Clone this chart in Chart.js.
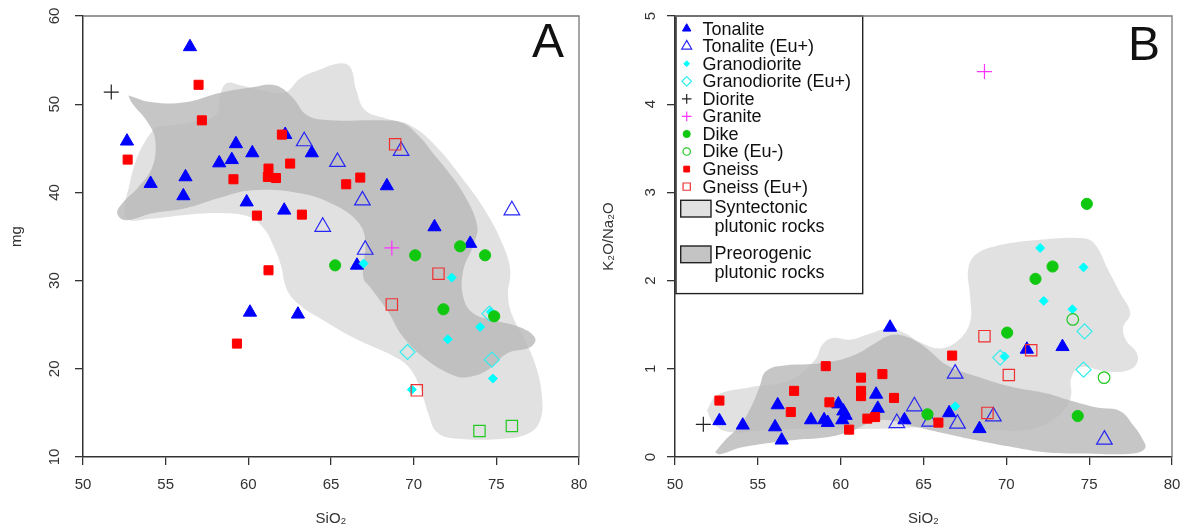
<!DOCTYPE html>
<html>
<head>
<meta charset="utf-8">
<script src="https://cdn.jsdelivr.net/npm/chart.js@4.4.1/dist/chart.umd.min.js"></script>
<style>
  body { margin: 0; background: #fff; }
  .panel { position: absolute; top: 0; width: 593px; height: 531px; }
  #panelA { left: 0; }
  #panelB { left: 593px; }
</style>
</head>
<body>
<div class="panel" id="panelA"><canvas id="chartA" width="593" height="531"></canvas></div>
<div class="panel" id="panelB"><canvas id="chartB" width="593" height="531"></canvas></div>
<script>
const FONT = "'Liberation Sans', Arial, Helvetica, sans-serif";

// ---- tick values ----
const siTicks = [50, 55, 60, 65, 70, 75, 80];
const mgTicks = [10, 20, 30, 40, 50, 60];
const kNaTicks = [0, 1, 2, 3, 4, 5];

// ---- panel A: SiO2 vs mg ----
const tonaliteA = [[56.47,56.5],[52.66,45.8],[59.25,45.5],[60.24,44.47],[58.24,43.33],[59.0,43.7],[54.09,41.0],[56.2,41.75],[56.07,39.6],[59.9,38.9],[62.17,37.97],[63.84,44.47],[62.23,46.55],[60.1,26.4],[63.0,26.18],[68.38,40.73],[71.26,36.08],[73.42,34.2],[66.57,31.73]];
const tonaliteEuA = [[63.38,45.8],[65.39,43.45],[69.24,44.7],[66.9,39.1],[75.94,37.97],[64.5,36.1],[67.07,33.5]];
const granodioriteA = [[66.97,31.93],[72.3,30.34],[74.67,26.44],[74.02,24.74],[72.06,23.34],[74.79,18.89],[69.89,17.64]];
const granodioriteEuA = [[69.63,21.91],[74.73,21.04],[74.58,26.26]];
const dioriteA = [[51.71,51.38]];
const graniteA = [[68.68,33.7]];
const dikeA = [[65.25,31.73],[70.09,32.87],[72.81,33.89],[74.32,32.87],[71.8,26.75],[74.87,25.95]];
const dikeEuA = [[73.98,12.95],[75.94,13.51]];
const gneissA = [[56.99,52.2],[57.19,48.17],[52.7,43.72],[62.03,46.55],[62.53,43.27],[59.1,41.49],[61.22,42.7],[61.18,41.75],[61.67,41.63],[60.52,37.37],[63.24,37.48],[61.22,31.17],[59.31,22.86],[65.92,40.92],[66.77,41.68]];
const gneissEuA = [[68.88,45.45],[71.5,30.79],[68.68,27.3],[70.19,17.56]];

const syntectonicA = [[54.37,47.38],[56.5,47.95],[58.01,48.74],[58.3,51.0],[58.68,52.37],[59.52,52.14],[60.85,51.58],[62.24,51.35],[63.14,52.94],[64.23,53.84],[65.56,54.64],[66.17,54.18],[66.53,51.58],[67.07,49.31],[68.28,48.4],[69.79,47.6],[71.3,45.33],[72.81,41.93],[74.32,37.96],[75.41,33.99],[75.84,31.16],[75.71,28.32],[75.96,26.06],[76.75,23.2],[77.47,19.81],[77.78,16.4],[77.65,14.14],[77.05,12.78],[75.66,12.1],[72.51,12.1],[71.42,12.78],[70.88,14.94],[70.39,17.89],[69.67,20.27],[68.7,21.52],[66.46,23.44],[64.35,25.71],[63.14,27.19],[62.36,28.89],[61.94,31.95],[61.5,34.0],[61.02,35.7],[60.12,37.17],[58.61,37.63],[56.5,37.5],[54.07,37.0],[52.7,36.9],[52.5,38.0],[52.8,40.8],[53.2,43.6],[53.8,45.9],[54.37,47.38]];
const preorogenicA = [[52.74,51.0],[54.19,50.22],[56.19,50.22],[58.18,51.24],[60.24,51.92],[61.63,52.14],[62.66,50.78],[63.56,48.74],[64.95,48.17],[67.97,48.17],[69.37,47.83],[70.39,46.24],[71.18,44.42],[72.03,42.49],[73.0,39.89],[73.84,36.26],[73.6,33.99],[73.0,31.16],[73.0,28.1],[73.6,26.29],[74.81,25.5],[76.44,24.7],[77.35,23.46],[77.05,22.44],[75.66,21.76],[74.45,19.83],[73.24,19.04],[72.39,19.27],[70.82,20.97],[69.37,23.57],[68.4,26.63],[67.37,29.24],[66.95,30.38],[67.07,34.57],[66.64,36.61],[65.25,38.54],[63.14,39.9],[60.24,40.24],[58.18,39.33],[56.19,38.2],[54.19,37.63],[52.56,36.84],[52.07,37.63],[52.38,38.77],[53.34,40.58],[54.19,42.85],[54.37,45.91],[53.95,47.84],[52.98,50.1],[52.74,51.0]];

// ---- panel B: SiO2 vs K2O/Na2O ----
const tonaliteB = [[52.68,0.41],[54.09,0.36],[56.2,0.59],[56.04,0.34],[56.44,0.19],[58.21,0.42],[59.0,0.42],[59.22,0.39],[59.86,0.6],[60.16,0.52],[60.3,0.47],[60.1,0.42],[62.14,0.71],[62.24,0.55],[62.98,1.47],[63.85,0.42],[66.55,0.5],[68.38,0.32],[71.24,1.22],[73.39,1.25]];
const tonaliteEuB = [[64.45,0.575],[63.39,0.385],[65.37,0.4],[66.91,0.945],[67.05,0.378],[69.22,0.46],[75.92,0.197]];
const granodioriteB = [[72.04,2.37],[74.66,2.15],[72.26,1.77],[73.99,1.675],[69.89,1.14],[66.91,0.575]];
const granodioriteEuB = [[69.63,1.127],[74.72,1.425],[74.66,0.99]];
const dioriteB = [[51.71,0.37]];
const graniteB = [[68.68,4.37]];
const dikeB = [[74.86,2.87],[72.79,2.16],[71.76,2.02],[70.05,1.41],[74.31,0.465],[65.24,0.484]];
const dikeEuB = [[74.01,1.56],[75.9,0.9]];
const gneissB = [[52.68,0.64],[57.19,0.75],[56.99,0.51],[59.1,1.03],[59.32,0.62],[60.51,0.31],[61.23,0.9],[61.23,0.75],[61.23,0.69],[62.52,0.94],[63.22,0.67],[61.61,0.435],[62.08,0.453],[66.73,1.15],[65.9,0.39]];
const gneissEuB = [[68.68,1.37],[71.5,1.21],[70.15,0.93],[68.86,0.5]];

const syntectonicB = [[51.93,0.53],[52.54,0.70],[54.53,0.79],[56.94,0.87],[58.45,1.10],[58.88,1.27],[59.48,1.35],[60.57,1.33],[61.78,1.40],[62.98,1.46],[63.89,1.40],[64.79,1.30],[66.0,1.23],[67.09,1.32],[67.81,1.53],[67.81,1.83],[67.69,2.12],[68.12,2.29],[69.32,2.39],[71.86,2.46],[74.64,2.48],[75.36,2.41],[76.15,2.12],[76.87,1.86],[77.48,1.63],[77.05,1.47],[77.23,1.32],[77.84,1.19],[77.9,1.07],[77.29,0.98],[76.09,0.97],[74.46,1.02],[73.91,0.89],[73.91,0.70],[73.55,0.55],[72.46,0.38],[70.83,0.30],[68.42,0.32],[66.0,0.34],[62.38,0.32],[57.55,0.32],[55.13,0.30],[53.32,0.28],[52.36,0.37],[51.93,0.53]];
const preorogenicB = [[52.42,0.053],[53.02,0.19],[53.93,0.36],[54.65,0.59],[55.13,0.81],[55.43,0.96],[56.22,1.03],[59.06,1.07],[60.75,1.15],[62.08,1.29],[62.98,1.38],[63.89,1.37],[64.67,1.3],[65.4,1.2],[66.43,1.04],[68.42,0.90],[70.41,0.79],[72.46,0.72],[73.85,0.64],[75.48,0.56],[76.87,0.52],[77.66,0.36],[78.26,0.19],[78.38,0.10],[77.66,0.04],[74.46,0.04],[72.46,0.05],[70.41,0.11],[68.42,0.18],[66.43,0.26],[64.37,0.35],[62.38,0.42],[60.45,0.28],[59.06,0.22],[57.07,0.19],[54.05,0.11],[52.72,0.03],[52.42,0.053]];

// ---- legend ----
const rockTypes = ['Tonalite', 'Tonalite (Eu+)', 'Granodiorite', 'Granodiorite (Eu+)', 'Diorite', 'Granite', 'Dike', 'Dike (Eu-)', 'Gneiss', 'Gneiss (Eu+)'];
const fieldLabels = [['Syntectonic', 'plutonic rocks'], ['Preorogenic', 'plutonic rocks']];

const NONE = 'rgba(0,0,0,0)';
const markerStyles = {
  'Tonalite':           { pointStyle: 'triangle', radius: 7.6, fill: '#0000ff', stroke: '#0000ff', width: 1 },
  'Tonalite (Eu+)':     { pointStyle: 'triangle', radius: 9,   fill: NONE,      stroke: '#2525f5', width: 1.2 },
  'Granodiorite':       { pointStyle: 'rectRot',  radius: 4.5, fill: '#00ffff', stroke: '#00ffff', width: 1 },
  'Granodiorite (Eu+)': { pointStyle: 'rectRot',  radius: 7.5, fill: NONE,      stroke: '#33eeee', width: 1.2 },
  'Diorite':            { pointStyle: 'cross',    radius: 7.5, fill: NONE,      stroke: '#222222', width: 1.2 },
  'Granite':            { pointStyle: 'cross',    radius: 7.5, fill: NONE,      stroke: '#ff33ff', width: 1.2 },
  'Dike':               { pointStyle: 'circle',   radius: 5.6, fill: '#11c811', stroke: '#11c811', width: 1 },
  'Dike (Eu-)':         { pointStyle: 'circle',   radius: 5.8, fill: NONE,      stroke: '#22c822', width: 1.2 },
  'Gneiss':             { pointStyle: 'rect',     radius: 6.4, fill: '#ff0000', stroke: '#ff0000', width: 1 },
  'Gneiss (Eu+)':       { pointStyle: 'rect',     radius: 8,   fill: NONE,      stroke: '#f03030', width: 1.2 }
};
const fieldColors = ['rgba(205,205,205,0.6)', 'rgba(186,186,186,0.82)'];
const fieldSwatch = ['#e1e1e1', '#c4c4c4'];

function toXY(arr) {
  return arr.map(p => ({ x: p[0], y: p[1] }));
}

function pointSet(label, data, override) {
  const s = Object.assign({}, markerStyles[label], override || {});
  return {
    label: label,
    data: toXY(data),
    showLine: false,
    order: 1,
    pointStyle: s.pointStyle,
    pointRadius: s.radius,
    pointHoverRadius: s.radius,
    pointBackgroundColor: s.fill,
    pointBorderColor: s.stroke,
    pointBorderWidth: s.width,
    backgroundColor: s.fill,
    borderColor: s.stroke
  };
}

function fieldSet(label, data, color, order) {
  return {
    type: 'line',
    label: label,
    data: toXY(data),
    fill: 'shape',
    backgroundColor: color,
    borderColor: NONE,
    borderWidth: 0,
    pointRadius: 0,
    pointHoverRadius: 0,
    tension: 0.4,
    order: order
  };
}

// box top and right side, like R's box()
const framePlugin = {
  id: 'frame',
  afterDraw(chart) {
    const { ctx, chartArea: a } = chart;
    ctx.save();
    ctx.strokeStyle = '#777';
    ctx.lineWidth = 1.3;
    ctx.beginPath();
    ctx.moveTo(a.left, a.top);
    ctx.lineTo(a.right, a.top);
    ctx.lineTo(a.right, a.bottom);
    ctx.stroke();
    ctx.restore();
  }
};

const letterPlugin = {
  id: 'panelLetter',
  afterDraw(chart, args, opts) {
    const { ctx, chartArea: a } = chart;
    ctx.save();
    ctx.font = '48px ' + FONT;
    ctx.fillStyle = '#111';
    ctx.textAlign = 'center';
    ctx.textBaseline = 'middle';
    ctx.fillText(opts.text, a.right - opts.dx, a.top + opts.dy);
    ctx.restore();
  }
};

const legendPlugin = {
  id: 'rockLegend',
  afterDatasetsDraw(chart) {
    const { ctx, chartArea: a } = chart;
    const left = a.left + 1, top = a.top, w = 186.7, h = 277.6;
    ctx.save();
    ctx.fillStyle = '#fff';
    ctx.fillRect(left, top, w, h);
    ctx.strokeStyle = '#222';
    ctx.lineWidth = 1.4;
    ctx.strokeRect(left, top, w, h);

    ctx.font = '18px ' + FONT;
    ctx.textAlign = 'left';
    ctx.textBaseline = 'middle';
    rockTypes.forEach((name, i) => {
      const y = top + 13.6 + i * 17.56;
      const s = markerStyles[name];
      ctx.fillStyle = s.fill;
      ctx.strokeStyle = s.stroke;
      ctx.lineWidth = s.width;
      Chart.helpers.drawPoint(ctx, { pointStyle: s.pointStyle, rotation: 0, radius: s.radius * 0.64, borderWidth: s.width }, left + 10.7, y - 1);
      ctx.fillStyle = '#111';
      ctx.fillText(name, left + 26.5, y);
    });

    fieldLabels.forEach((lines, i) => {
      const by = top + 184.3 + i * 45.7;
      ctx.fillStyle = fieldSwatch[i];
      ctx.fillRect(left + 4.7, by, 30.3, 16.7);
      ctx.strokeStyle = '#222';
      ctx.lineWidth = 1.4;
      ctx.strokeRect(left + 4.7, by, 30.3, 16.7);
      ctx.fillStyle = '#111';
      ctx.fillText(lines[0], left + 38.5, by + 8.2);
      ctx.fillText(lines[1], left + 38.5, by + 26.8);
    });
    ctx.restore();
  }
};

function makeScales(yMin, yMax, yStep, yTitle, yWidth, yTitlePad) {
  const tickFont = { family: FONT, size: 15 };
  return {
    x: {
      type: 'linear',
      min: siTicks[0],
      max: siTicks[siTicks.length - 1],
      ticks: { stepSize: siTicks[1] - siTicks[0], padding: 11, color: '#333', font: tickFont },
      grid: { drawOnChartArea: false, drawTicks: true, tickLength: 8, color: '#333', lineWidth: 1.3 },
      border: { display: true, color: '#333', width: 1.5 },
      title: { display: true, text: 'SiO₂', color: '#333', font: tickFont, padding: { top: 0, bottom: 3 } },
      afterFit: s => { s.height = 74; s.paddingLeft = 0; s.paddingRight = 0; }
    },
    y: {
      type: 'linear',
      min: yMin,
      max: yMax,
      ticks: { stepSize: yStep, padding: 12, minRotation: 90, maxRotation: 90, crossAlign: 'center', color: '#333', font: tickFont },
      grid: { drawOnChartArea: false, drawTicks: true, tickLength: 8, color: '#333', lineWidth: 1.3 },
      border: { display: true, color: '#333', width: 1.5 },
      title: { display: true, text: yTitle, color: '#333', font: tickFont, padding: { top: yTitlePad, bottom: 0 } },
      afterFit: s => { s.width = yWidth; s.paddingTop = 0; s.paddingBottom = 0; }
    }
  };
}

function baseOptions(scales, letter) {
  return {
    responsive: false,
    animation: false,
    events: [],
    layout: { padding: { left: 0, right: 14, top: 16, bottom: 0 } },
    scales: scales,
    plugins: {
      legend: { display: false },
      tooltip: { enabled: false },
      filler: { drawTime: 'beforeDatasetsDraw' },
      panelLetter: letter
    }
  };
}

new Chart(document.getElementById('chartA'), {
  type: 'scatter',
  data: {
    datasets: [
      fieldSet('Syntectonic plutonic rocks', syntectonicA, fieldColors[0], 20),
      fieldSet('Preorogenic plutonic rocks', preorogenicA, fieldColors[1], 19),
      pointSet('Tonalite', tonaliteA),
      pointSet('Tonalite (Eu+)', tonaliteEuA),
      pointSet('Granodiorite', granodioriteA),
      pointSet('Granodiorite (Eu+)', granodioriteEuA),
      pointSet('Diorite', dioriteA),
      pointSet('Granite', graniteA),
      pointSet('Dike', dikeA),
      pointSet('Dike (Eu-)', dikeEuA, { pointStyle: 'rect', radius: 8 }),
      pointSet('Gneiss', gneissA),
      pointSet('Gneiss (Eu+)', gneissEuA)
    ].reverse()
  },
  options: baseOptions(makeScales(mgTicks[0], mgTicks[mgTicks.length - 1], 10, 'mg', 83, 8), { text: 'A', dx: 31, dy: 27.5 }),
  plugins: [framePlugin, letterPlugin]
});

new Chart(document.getElementById('chartB'), {
  type: 'scatter',
  data: {
    datasets: [
      fieldSet('Syntectonic plutonic rocks', syntectonicB, fieldColors[0], 20),
      fieldSet('Preorogenic plutonic rocks', preorogenicB, fieldColors[1], 19),
      pointSet('Tonalite', tonaliteB),
      pointSet('Tonalite (Eu+)', tonaliteEuB),
      pointSet('Granodiorite', granodioriteB),
      pointSet('Granodiorite (Eu+)', granodioriteEuB),
      pointSet('Diorite', dioriteB),
      pointSet('Granite', graniteB),
      pointSet('Dike', dikeB),
      pointSet('Dike (Eu-)', dikeEuB),
      pointSet('Gneiss', gneissB),
      pointSet('Gneiss (Eu+)', gneissEuB)
    ].reverse()
  },
  options: baseOptions(makeScales(kNaTicks[0], kNaTicks[kNaTicks.length - 1], 1, 'K₂O/Na₂O', 82, 7), { text: 'B', dx: 28, dy: 31 }),
  plugins: [framePlugin, letterPlugin, legendPlugin]
});
</script>
</body>
</html>
